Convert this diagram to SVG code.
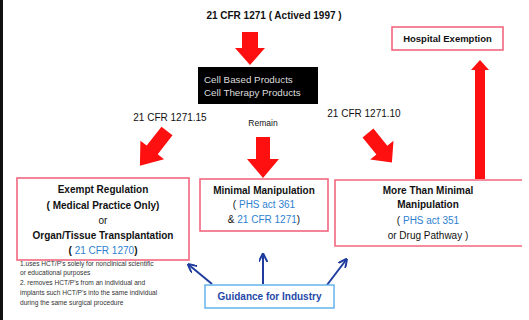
<svg xmlns="http://www.w3.org/2000/svg" width="529" height="320" viewBox="0 0 529 320">
  <style>
    text { font-family: "Liberation Sans", Arial, sans-serif; fill: #111; }
    .b { font-weight: bold; font-size: 10px; }
    .n { font-size: 10px; }
    .ctr { text-anchor: middle; }
    .lnk { fill: #2f7fd0; font-weight: normal; }
    .box { fill: #fff; stroke: #f2677f; stroke-width: 1.6; }
    .red { fill: #ff1010; }
    .blue { stroke: #1f3c9e; stroke-width: 2; fill: none; marker-end: url(#bh); }
    .note { font-size: 6.6px; fill: #333; }
  </style>
  <defs>
    <marker id="bh" viewBox="0 0 10 10" refX="8" refY="5" markerWidth="4.5" markerHeight="4.5" orient="auto">
      <path d="M0,0 L10,5 L0,10" fill="none" stroke="#1f3c9e" stroke-width="2.2"/>
    </marker>
  </defs>

  <rect x="0" y="0" width="529" height="320" fill="#fff"/>
  <rect x="0" y="0" width="3" height="320" fill="#111"/>

  <text class="b ctr" x="274" y="19">21 CFR 1271 ( Actived 1997 )</text>

  <!-- block arrows and guidance pointers -->
  <g id="connectors">
    <path class="red" transform="translate(250,32)" d="M-8,0 H8 V16 H15 L0,33 L-15,16 H-8 Z"/>
    <path class="red" transform="translate(263,137)" d="M-7,0 H7 V22 H16 L0,41 L-16,22 H-7 Z"/>
    <path class="red" transform="translate(167,131) rotate(38)" d="M-7,0 H7 V24 H15 L0,44 L-15,24 H-7 Z"/>
    <path class="red" transform="translate(368,133) rotate(-39)" d="M-7,0 H7 V22 H15 L0,38 L-15,22 H-7 Z"/>
    <path class="red" d="M480,60 L489,70 H485 V179 H475 V70 H471 Z"/>
    <path class="blue" d="M212,284 L189,265"/>
    <path class="blue" d="M263,284 L263,255"/>
    <path class="blue" d="M327,285 L346,260"/>
  </g>

  <text class="n ctr" x="170" y="121">21 CFR 1271.15</text>
  <text class="n ctr" x="364" y="117">21 CFR 1271.10</text>
  <text class="ctr" x="263" y="126" style="font-size:8.5px">Remain</text>

  <g id="products">
    <rect x="198" y="67" width="120" height="37" fill="#000"/>
    <text x="204" y="83" style="font-size:9.8px;fill:#ddd">Cell Based Products</text>
    <text x="204" y="96" style="font-size:9.8px;fill:#ddd">Cell Therapy Products</text>
  </g>

  <g id="hospital">
    <rect class="box" x="392" y="27" width="111" height="23"/>
    <text class="b ctr" x="447.5" y="42" style="font-size:9.5px">Hospital Exemption</text>
  </g>

  <g id="exempt">
    <rect class="box" x="17" y="178" width="172" height="82"/>
    <text class="b ctr" x="103" y="193">Exempt Regulation</text>
    <text class="b ctr" x="103" y="209">( Medical Practice Only)</text>
    <text class="n ctr" x="103" y="224">or</text>
    <text class="b ctr" x="103" y="239">Organ/Tissue Transplantation</text>
    <text class="b ctr" x="103" y="254">( <tspan class="lnk">21 CFR 1270</tspan>)</text>
  </g>

  <g id="minimal">
    <rect class="box" x="200" y="179" width="128" height="52"/>
    <text class="b ctr" x="264" y="194">Minimal Manipulation</text>
    <text class="n ctr" x="264" y="208">( <tspan class="lnk">PHS act 361</tspan></text>
    <text class="n ctr" x="264" y="223">&amp; <tspan class="lnk">21 CFR 1271</tspan>)</text>
  </g>

  <g id="more">
    <path class="box" d="M522,180 H335 V246 H522"/>
    <text class="b ctr" x="428" y="194">More Than Minimal</text>
    <text class="b ctr" x="428" y="208">Manipulation</text>
    <text class="n ctr" x="428" y="224">( <tspan class="lnk">PHS act 351</tspan></text>
    <text class="n ctr" x="428" y="239">or Drug Pathway )</text>
  </g>

  <g id="guidance">
    <rect x="205" y="285" width="129" height="23" fill="#fff" stroke="#5aaee8" stroke-width="1.4"/>
    <text class="b ctr" x="269.5" y="300" style="fill:#2548a8">Guidance for Industry</text>
  </g>

  <g id="notes">
    <text class="note" x="20" y="266">1.uses HCT/P's solely for nonclinical scientific</text>
    <text class="note" x="20" y="275">or educational purposes</text>
    <text class="note" x="20" y="285">2. removes HCT/P's from an individual and</text>
    <text class="note" x="20" y="295">implants such HCT/P's into the same individual</text>
    <text class="note" x="20" y="305">during the same surgical procedure</text>
  </g>
</svg>
